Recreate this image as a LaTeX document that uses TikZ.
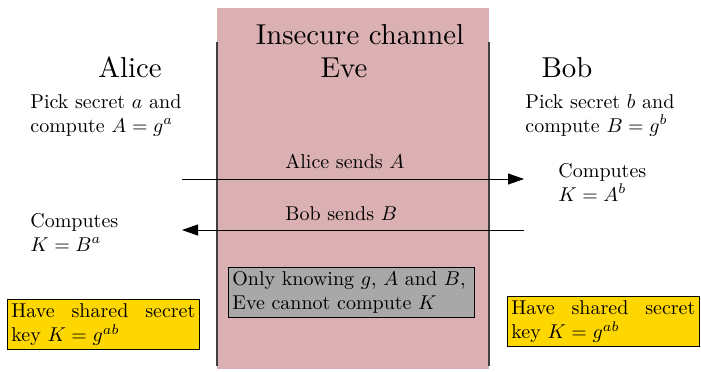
\documentclass[tikz,border=0pt]{standalone}
\usepackage{amsmath}
\usepackage{fontspec}
\usepackage{tikz}
\usetikzlibrary{shapes,arrows.meta,positioning,fit,calc}

\newfontfamily\partyfont{lmroman10-regular}[Extension=.otf]
\definecolor{channelpink}{RGB}{219,176,178}
\definecolor{evegray}{RGB}{168,168,168}
\definecolor{keygold}{RGB}{255,215,0}

\begin{document}
\begin{tikzpicture}[x=0.5pt,y=-0.5pt,
            party/.style={font=\partyfont\fontsize{14.4}{17}\selectfont,inner sep=0pt,anchor=base},
            note/.style={inner sep=0pt,anchor=base west,align=left},
            msg/.style={-{Triangle[length=8pt,width=5.5pt]}},
            wall/.style={black!75,line width=0.6pt},
            keybox/.style={draw,fill=keygold,text width=92pt,align=justify,inner sep=2pt,anchor=north west},
            evebox/.style={draw,fill=evegray,text width=119pt,align=left,inner sep=2pt,anchor=north west}]
            \useasboundingbox (0,0) rectangle (701,371);
            % the channel
            \fill[channelpink] (217,8) rectangle (489,369);
            \draw[wall] (217,42) -- (217,366);
            \draw[wall] (489,42) -- (489,366);
            \node[party] (channel) at (360,44) {Insecure channel};
            \node[party] (eve) at (344,77) {Eve};
            \node[party] (alice) at (130,77) {Alice};
            \node[party] (bob) at (567,77) {Bob};
            % base of a two line note is its last line
            \node[note] (pickA) at (30,132) {Pick secret $a$ and\\compute $A = g^a$};
            \node[note] (pickB) at (525,132) {Pick secret $b$ and\\compute $B = g^b$};
            % messages
            \coordinate (asend) at (182,179);
            \coordinate (brecv) at (524,179);
            \coordinate (bsend) at (524,230);
            \coordinate (arecv) at (182,230);
            \draw[msg] (asend) -- (brecv);
            \draw[msg] (bsend) -- (arecv);
            \node[note] (sendA) at (285,168) {Alice sends $A$};
            \node[note] (sendB) at (285,220) {Bob sends $B$};
            \node[note] (keyB) at (558,201) {Computes\\$K = A^b$};
            \node[note] (keyA) at (30,251) {Computes\\$K = B^a$};
            \node[evebox] (evenote) at (228,267) {Only knowing $g$, $A$ and $B$,\\Eve cannot compute $K$};
            \node[keybox] (sharedA) at (7,299) {Have shared secret key $K = g^{ab}$};
            \node[keybox] (sharedB) at (507,296) {Have shared secret key $K = g^{ab}$};
        \end{tikzpicture}
\end{document}
